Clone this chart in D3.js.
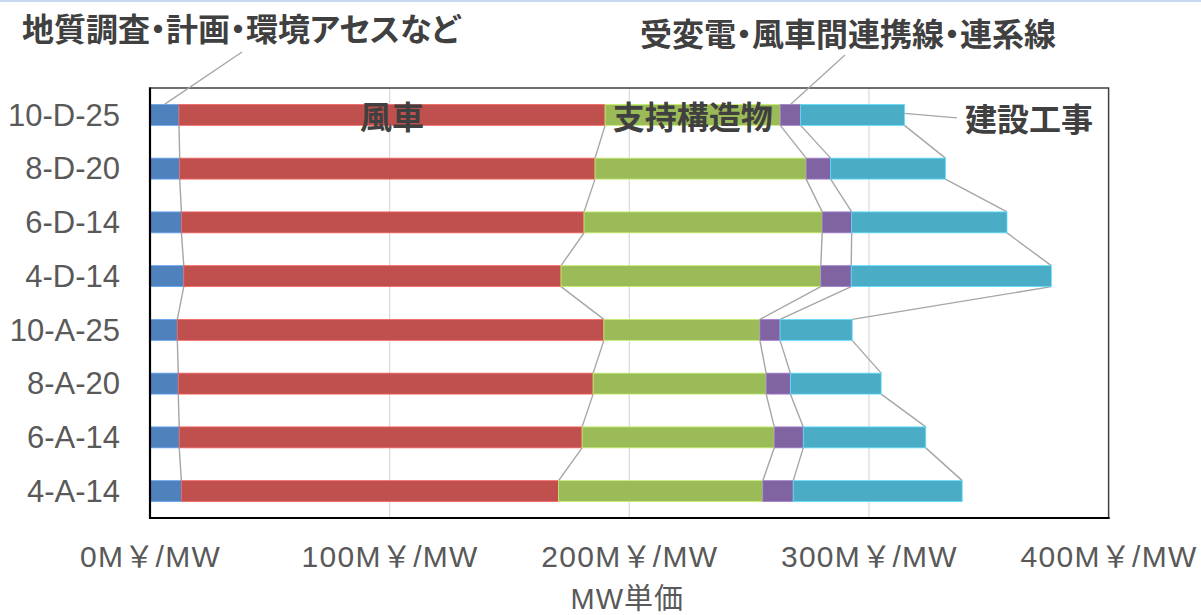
<!DOCTYPE html>
<html>
<head>
<meta charset="utf-8">
<script src="https://cdn.jsdelivr.net/npm/d3@7"></script>
<style>
  html, body { margin: 0; padding: 0; background: #ffffff; }
  svg { display: block; }
</style>
</head>
<body>
<svg id="chart" width="1201" height="615"></svg>
<script>
// Offshore wind cost breakdown per MW, by case
const categories = ["10-D-25", "8-D-20", "6-D-14", "4-D-14", "10-A-25", "8-A-20", "6-A-14", "4-A-14"];
const survey       = [12.1, 12.4, 13.1, 14.1, 11.4, 11.8, 12.2, 13.1];
const turbine      = [177.8, 173.3, 168.0, 157.4, 178.0, 173.1, 168.1, 157.4];
const support      = [73.1, 88.1, 99.4, 108.4, 65.1, 72.2, 80.2, 85.2];
const substation   = [8.5, 10.2, 12.3, 12.7, 8.4, 10.1, 12.1, 12.7];
const construction = [43.3, 47.9, 64.8, 83.5, 30.1, 37.9, 51.1, 70.5];
const seriesNames = ["地質調査・計画・環境アセスなど", "風車", "支持構造物", "受変電・風車間連携線・連系線", "建設工事"];
const seriesColors = ["#4f81bd", "#c0504d", "#9bbb59", "#8064a2", "#4bacc6"];
const xTicks = [0, 100, 200, 300, 400];
const tickSuffix = "M￥/MW";
const axisTitle = "MW単価";

const svg = d3.select("#chart");
const W = 1201, H = 615;
const plot = { left: 150, right: 1108.6, top: 88, bottom: 518 };

svg.append("rect").attr("width", W).attr("height", H).attr("fill", "#ffffff");
svg.append("rect").attr("x", 0).attr("y", 0).attr("width", W).attr("height", 2).attr("fill", "#c6d9f1");

const rows = categories.map((c, i) => ({
  cat: c,
  s0: survey[i], s1: turbine[i], s2: support[i], s3: substation[i], s4: construction[i]
}));
const keys = ["s0", "s1", "s2", "s3", "s4"];
const stacked = d3.stack().keys(keys)(rows);

const x = d3.scaleLinear().domain([0, 400]).range([plot.left, plot.right]);
const y = d3.scaleBand().domain(categories).range([plot.top, plot.bottom])
  .paddingInner(0.61).paddingOuter(0.305);

// vertical gridlines
svg.append("g").selectAll("line").data(xTicks.filter(t => t > 0 && t < 400)).join("line")
  .attr("x1", d => x(d)).attr("x2", d => x(d))
  .attr("y1", plot.top).attr("y2", plot.bottom)
  .attr("stroke", "#d9d9d9").attr("stroke-width", 1.2);

// series lines joining segment ends of neighbouring bars
const slG = svg.append("g");
stacked.forEach(layer => {
  for (let i = 0; i < categories.length - 1; i++) {
    slG.append("line")
      .attr("x1", x(layer[i][1])).attr("y1", y(categories[i]) + y.bandwidth())
      .attr("x2", x(layer[i + 1][1])).attr("y2", y(categories[i + 1]))
      .attr("stroke", "#a6a6a6").attr("stroke-width", 1.4);
  }
});

// bars
svg.append("g").selectAll("g").data(stacked).join("g")
  .attr("fill", (d, i) => seriesColors[i])
  .attr("stroke", (d, i) => d3.color(seriesColors[i]).brighter(0.7))
  .attr("stroke-width", 0.8)
  .selectAll("rect").data(d => d).join("rect")
  .attr("x", d => x(d[0]))
  .attr("width", d => x(d[1]) - x(d[0]))
  .attr("y", d => y(d.data.cat))
  .attr("height", y.bandwidth());

// plot frame
svg.append("rect")
  .attr("x", plot.left).attr("y", plot.top)
  .attr("width", plot.right - plot.left).attr("height", plot.bottom - plot.top)
  .attr("fill", "none").attr("stroke", "#404040").attr("stroke-width", 1.5);
svg.append("line").attr("x1", plot.left).attr("x2", plot.left)
  .attr("y1", plot.top - 0.5).attr("y2", plot.bottom + 1)
  .attr("stroke", "#000").attr("stroke-width", 2.2);
svg.append("line").attr("x1", plot.left - 1).attr("x2", plot.right + 1)
  .attr("y1", plot.bottom).attr("y2", plot.bottom)
  .attr("stroke", "#000").attr("stroke-width", 2.2);

// category axis
const yAxis = svg.append("g").attr("transform", `translate(${plot.left - 30},0)`)
  .call(d3.axisLeft(y).tickSize(0).tickPadding(0));
yAxis.select(".domain").remove();
yAxis.selectAll("text")
  .attr("x", 0).attr("dy", "0.35em")
  .attr("fill", "#595959")
  .style("font-family", "'Liberation Sans', Arial, sans-serif")
  .style("font-size", "31px");

// value axis
const xAxis = svg.append("g").attr("transform", `translate(0,${plot.bottom})`)
  .call(d3.axisBottom(x).tickValues(xTicks).tickSize(0).tickFormat(d => d + tickSuffix));
xAxis.select(".domain").remove();
xAxis.selectAll("text")
  .attr("y", 49).attr("dy", 0)
  .attr("fill", "#595959")
  .style("font-family", "'Liberation Sans', Arial, 'Noto Sans CJK JP', sans-serif")
  .style("font-size", "30px")
  .style("letter-spacing", "1.3px");

svg.append("text")
  .attr("x", (plot.left + plot.right) / 2 - 2).attr("y", 609)
  .attr("text-anchor", "middle")
  .attr("fill", "#595959")
  .style("font-family", "'Liberation Sans', Arial, 'Noto Sans CJK JP', sans-serif")
  .style("font-size", "29px")
  .style("letter-spacing", "1px")
  .text(axisTitle);

// data labels for the top bar
const firstBar = stacked.map(layer => layer[0]);
const barTop = y(categories[0]);
const barMid = barTop + y.bandwidth() / 2;
const labelFont = "'Noto Sans CJK JP', 'Noto Sans CJK SC', sans-serif";

function addLabel(txt, px, py, anchor, size) {
  return svg.append("text")
    .attr("x", px).attr("y", py)
    .attr("text-anchor", anchor)
    .attr("dominant-baseline", "central")
    .attr("fill", "#404040")
    .style("font-family", labelFont)
    .style("font-weight", "bold")
    .style("font-size", size + "px")
    .style("font-feature-settings", "'palt' 1")
    .text(txt);
}

const leader = (x1, y1, x2, y2) => svg.append("line")
  .attr("x1", x1).attr("y1", y1).attr("x2", x2).attr("y2", y2)
  .attr("stroke", "#a6a6a6").attr("stroke-width", 1.3);

// survey label with leader line
leader((x(firstBar[0][0]) + x(firstBar[0][1])) / 2, barTop, 242, 52);
addLabel(seriesNames[0], 22, 27, "start", 32);

// turbine and support labels inside their segments
addLabel(seriesNames[1], (x(firstBar[1][0]) + x(firstBar[1][1])) / 2, barMid, "middle", 32);
addLabel(seriesNames[2], (x(firstBar[2][0]) + x(firstBar[2][1])) / 2, barMid, "middle", 32);

// substation label with leader line
leader((x(firstBar[3][0]) + x(firstBar[3][1])) / 2, barTop, 845, 55);
addLabel(seriesNames[3], 640, 32, "start", 32);

// construction label with leader line
leader(x(firstBar[4][1]), barMid - 1.5, 957, barMid + 3);
addLabel(seriesNames[4], 965, barMid + 2, "start", 32);
</script>
</body>
</html>
